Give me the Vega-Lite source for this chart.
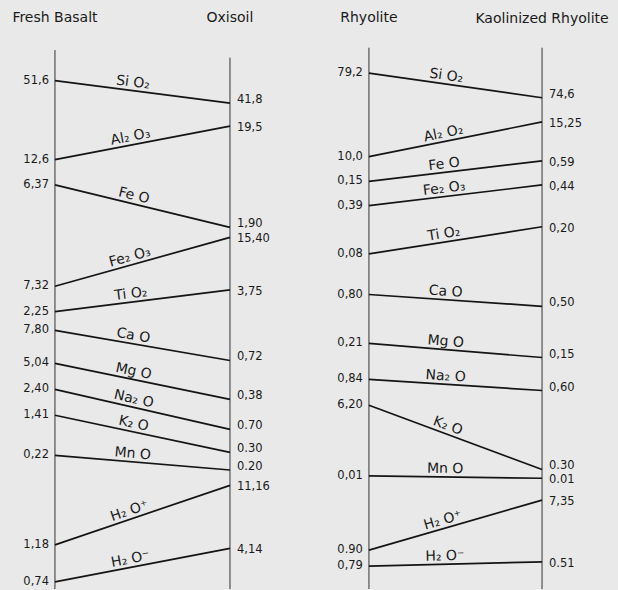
{
  "$schema": "https://vega.github.io/schema/vega-lite/v6.json",
  "autosize": {"type": "fit", "contains": "padding"},
  "width": 618,
  "height": 590,
  "padding": 0,
  "background": "#e9e9e9",
  "config": {"view": {"stroke": null}, "text": {"font": "DejaVu Sans", "color": "#1a1a1a"}},
  "datasets": {
    "cols": [
      {"name": "Fresh Basalt", "col": 0, "top": 8.5, "head": 3.0},
      {"name": "Oxisoil", "col": 1, "top": 9.8, "head": 3.0},
      {"name": "Rhyolite", "col": 1.794, "top": 8.1, "head": 3.1},
      {"name": "Kaolinized Rhyolite", "col": 2.783, "top": 8.1, "head": 3.3}
    ],
    "lines": [
      {"from": "Fresh Basalt", "to": "Oxisoil", "oxide": "Si O₂", "a": "51,6", "b": "41,8", "yL": 13.7, "yR": 17.5},
      {"from": "Fresh Basalt", "to": "Oxisoil", "oxide": "Al₂ O₃", "a": "12,6", "b": "19,5", "yL": 27.1, "yR": 21.4},
      {"from": "Fresh Basalt", "to": "Oxisoil", "oxide": "Fe O", "a": "6,37", "b": "1,90", "yL": 31.4, "yR": 38.6},
      {"from": "Fresh Basalt", "to": "Oxisoil", "oxide": "Fe₂ O₃", "a": "7,32", "b": "15,40", "yL": 48.6, "yR": 40.3},
      {"from": "Fresh Basalt", "to": "Oxisoil", "oxide": "Ti O₂", "a": "2,25", "b": "3,75", "yL": 52.9, "yR": 49.2},
      {"from": "Fresh Basalt", "to": "Oxisoil", "oxide": "Ca O", "a": "7,80", "b": "0,72", "yL": 56.1, "yR": 61.2},
      {"from": "Fresh Basalt", "to": "Oxisoil", "oxide": "Mg O", "a": "5,04", "b": "0,38", "yL": 61.7, "yR": 67.8},
      {"from": "Fresh Basalt", "to": "Oxisoil", "oxide": "Na₂ O", "a": "2,40", "b": "0.70", "yL": 66.1, "yR": 72.9},
      {"from": "Fresh Basalt", "to": "Oxisoil", "oxide": "K₂ O", "a": "1,41", "b": "0.30", "yL": 70.5, "yR": 76.8},
      {"from": "Fresh Basalt", "to": "Oxisoil", "oxide": "Mn O", "a": "0,22", "b": "0.20", "yL": 77.3, "yR": 79.8},
      {"from": "Fresh Basalt", "to": "Oxisoil", "oxide": "H₂ O⁺", "a": "1,18", "b": "11,16", "yL": 92.5, "yR": 82.4},
      {"from": "Fresh Basalt", "to": "Oxisoil", "oxide": "H₂ O⁻", "a": "0,74", "b": "4,14", "yL": 98.8, "yR": 93.1},
      {"from": "Rhyolite", "to": "Kaolinized Rhyolite", "oxide": "Si O₂", "a": "79,2", "b": "74,6", "yL": 12.4, "yR": 16.6},
      {"from": "Rhyolite", "to": "Kaolinized Rhyolite", "oxide": "Al₂ O₂", "a": "10,0", "b": "15,25", "yL": 26.6, "yR": 20.7},
      {"from": "Rhyolite", "to": "Kaolinized Rhyolite", "oxide": "Fe O", "a": "0,15", "b": "0,59", "yL": 30.8, "yR": 27.3},
      {"from": "Rhyolite", "to": "Kaolinized Rhyolite", "oxide": "Fe₂ O₃", "a": "0,39", "b": "0,44", "yL": 34.9, "yR": 31.4},
      {"from": "Rhyolite", "to": "Kaolinized Rhyolite", "oxide": "Ti O₂", "a": "0,08", "b": "0,20", "yL": 43.1, "yR": 38.5},
      {"from": "Rhyolite", "to": "Kaolinized Rhyolite", "oxide": "Ca O", "a": "0,80", "b": "0,50", "yL": 50.0, "yR": 52.0},
      {"from": "Rhyolite", "to": "Kaolinized Rhyolite", "oxide": "Mg O", "a": "0,21", "b": "0,15", "yL": 58.3, "yR": 60.7},
      {"from": "Rhyolite", "to": "Kaolinized Rhyolite", "oxide": "Na₂ O", "a": "0,84", "b": "0,60", "yL": 64.4, "yR": 66.3},
      {"from": "Rhyolite", "to": "Kaolinized Rhyolite", "oxide": "K₂ O", "a": "6,20", "b": "0.30", "yL": 68.8, "yR": 79.7},
      {"from": "Rhyolite", "to": "Kaolinized Rhyolite", "oxide": "Mn O", "a": "0,01", "b": "0.01", "yL": 80.8, "yR": 81.2},
      {"from": "Rhyolite", "to": "Kaolinized Rhyolite", "oxide": "H₂ O⁺", "a": "0.90", "b": "7,35", "yL": 93.4, "yR": 84.9},
      {"from": "Rhyolite", "to": "Kaolinized Rhyolite", "oxide": "H₂ O⁻", "a": "0,79", "b": "0.51", "yL": 96.1, "yR": 95.4}
    ]
  },
  "layer": [
    {
      "data": {"name": "cols"},
      "mark": {"type": "rule", "color": "#333333", "strokeWidth": 1},
      "encoding": {
        "x": {"field": "col", "type": "quantitative", "scale": {"domain": [-0.314, 3.217], "nice": false, "zero": false}, "axis": null},
        "y": {"field": "top", "type": "quantitative", "scale": {"domain": [0, 100], "reverse": true, "nice": false, "zero": false}, "axis": null},
        "y2": {"datum": 100}
      }
    },
    {
      "data": {"name": "cols"},
      "mark": {"type": "text", "fontSize": 14, "align": "center", "baseline": "middle"},
      "encoding": {
        "x": {"field": "col", "type": "quantitative"},
        "y": {"field": "head", "type": "quantitative"},
        "text": {"field": "name"}
      }
    },
    {
      "data": {"name": "lines"},
      "transform": [
        {"lookup": "from", "from": {"data": {"name": "cols"}, "key": "name", "fields": ["col"]}, "as": ["xL"]},
        {"lookup": "to", "from": {"data": {"name": "cols"}, "key": "name", "fields": ["col"]}, "as": ["xR"]},
        {"calculate": "datum.xL + 0.44 * (datum.xR - datum.xL)", "as": "xm"},
        {"calculate": "datum.yL + 0.44 * (datum.yR - datum.yL)", "as": "ym"},
        {"calculate": "atan2((datum.yR - datum.yL) * 5.9, (datum.xR - datum.xL) * 175) * 180 / PI", "as": "ang"}
      ],
      "layer": [
        {
          "mark": {"type": "rule", "color": "#141414", "strokeWidth": 1.7},
          "encoding": {
            "x": {"field": "xL", "type": "quantitative"},
            "x2": {"field": "xR"},
            "y": {"field": "yL", "type": "quantitative"},
            "y2": {"field": "yR"}
          }
        },
        {
          "mark": {"type": "text", "fontSize": 11.5, "align": "right", "baseline": "middle", "dx": -6},
          "encoding": {
            "x": {"field": "xL", "type": "quantitative"},
            "y": {"field": "yL", "type": "quantitative"},
            "text": {"field": "a"}
          }
        },
        {
          "transform": [{"filter": "datum.yR - datum.yL > 1"}],
          "mark": {"type": "text", "fontSize": 11.5, "align": "left", "baseline": "middle", "dx": 7, "dy": -3},
          "encoding": {
            "x": {"field": "xR", "type": "quantitative"},
            "y": {"field": "yR", "type": "quantitative"},
            "text": {"field": "b"}
          }
        },
        {
          "transform": [{"filter": "datum.yR - datum.yL <= 1"}],
          "mark": {"type": "text", "fontSize": 11.5, "align": "left", "baseline": "middle", "dx": 7, "dy": 2},
          "encoding": {
            "x": {"field": "xR", "type": "quantitative"},
            "y": {"field": "yR", "type": "quantitative"},
            "text": {"field": "b"}
          }
        },
        {
          "mark": {"type": "text", "fontSize": 14, "align": "center", "baseline": "alphabetic", "dy": -4},
          "encoding": {
            "x": {"field": "xm", "type": "quantitative"},
            "y": {"field": "ym", "type": "quantitative"},
            "angle": {"field": "ang", "type": "quantitative", "scale": null},
            "text": {"field": "oxide"}
          }
        }
      ]
    }
  ]
}
